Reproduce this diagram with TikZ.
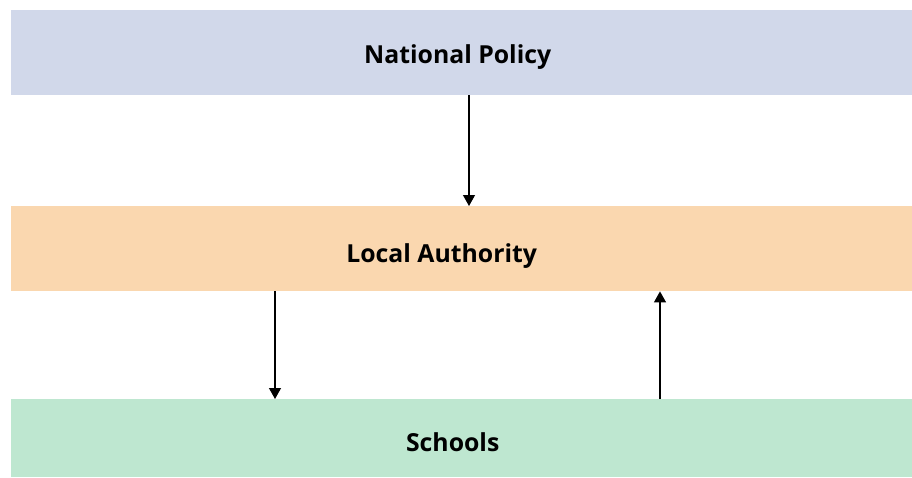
\documentclass[tikz,border=0pt]{standalone}
\usepackage{fontspec}
\setmainfont{Open Sans}
\usetikzlibrary{arrows.meta}
\definecolor{cblue}{RGB}{209,216,234}
\definecolor{corange}{RGB}{250,215,175}
\definecolor{cgreen}{RGB}{190,231,208}
\tikzset{
  layer/.style={draw=none, minimum width=901pt, minimum height=85pt, inner sep=0pt, anchor=north west},
  caption/.style={inner sep=0pt, font=\fontsize{24.8}{28}\selectfont\bfseries},
  link/.style={line width=1.2pt, -{Triangle[length=11pt,width=12pt]}}
}
\begin{document}
\begin{tikzpicture}[x=1pt,y=-1pt]
\useasboundingbox (0,0) rectangle (912,477);
\node[layer, fill=cblue] (np) at (11,10) {};
\node[layer, fill=corange] (la) at (11,206) {};
\node[layer, fill=cgreen, minimum height=78pt] (sc) at (11,399) {};
\node[caption] (npt) at ([xshift=-4pt,yshift=-4pt]np.center) {National Policy};
\node[caption] (lat) at ([xshift=-20pt,yshift=-7pt]la.center) {Local Authority};
\node[caption] (sct) at ([xshift=-9pt,yshift=-4pt]sc.center) {Schools};
\draw[link] (np.south -| 469,0) -- (la.north -| 469,0);
\draw[link] (la.south -| 275,0) -- (sc.north -| 275,0);
\draw[link] (sc.north -| 660,0) -- (la.south -| 660,0);
\end{tikzpicture}
\end{document}
